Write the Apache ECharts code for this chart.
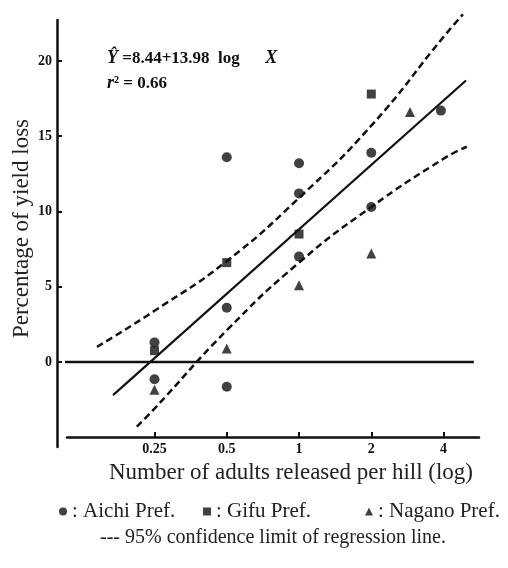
<!DOCTYPE html>
<html>
<head>
<meta charset="utf-8">
<script src="https://cdn.jsdelivr.net/npm/echarts@6/dist/echarts.min.js"></script>
<style>
html, body { margin: 0; padding: 0; background: #fff; }
#chart { width: 508px; height: 568px; }
</style>
</head>
<body>
<div id="chart"></div>
<script>
// points: [adults per hill, % yield loss]
var aichi = [[0.25, 1.3], [0.25, -1.15], [0.5, 13.6], [0.5, 3.6], [0.5, -1.65],
	[1, 13.2], [1, 11.2], [1, 7.0], [2, 13.9], [2, 10.3], [3.9, 16.7]];
var gifu = [[0.25, 0.75], [0.5, 6.6], [1, 8.5], [2, 17.8]];
var nagano = [[0.25, -1.85], [0.5, 0.9], [1, 5.1], [2, 7.2], [2.9, 16.6]];

// regression line and 95% limits
var regLine = [[0.168, -2.2], [4.96, 18.7]];
var upperLimit = [[0.144, 1.0], [0.25, 3.4], [0.5, 6.7], [1, 10.9], [2, 15.7], [4, 21.6], [4.82, 23.1]];
var lowerLimit = [[0.211, -4.3], [0.25, -3.1], [0.5, 2.1], [1, 6.6], [2, 10.3], [4, 13.5], [5.0, 14.3]];
var zeroLine = [[0.098, 0], [5.35, 0]];

var xTicks = [0.25, 0.5, 1, 2, 4];
var yTicks = [0, 5, 10, 15, 20];

var serif = 'Liberation Serif';

// one legend block per prefecture, spaced as in the figure
function legendItem(name, icon, left) {
	return {
		left: left,
		top: 496,
		itemWidth: 8,
		itemHeight: 8,
		formatter: ': {name}',
		textStyle: { fontFamily: serif, fontSize: 21, color: '#222' },
		data: [{ name: name, icon: icon }]
	};
}

var e = echarts.init(document.getElementById('chart')),
	a = {
		backgroundColor: '#fff',
		animation: false,
		grid: {
			left: 67,
			right: 29,
			top: 20,
			bottom: 121,
			outerBoundsMode: 'none'
		},
		legend: [
			legendItem('Aichi Pref.', 'circle', 54),
			legendItem('Gifu Pref.', 'rect', 198),
			legendItem('Nagano Pref.', 'triangle', 360)
		],
		xAxis: {
			type: 'log',
			logBase: 2,
			min: 0.108,
			max: 5.62,
			offset: -10,
			name: 'Number of adults released per hill (log)',
			nameLocation: 'middle',
			nameGap: 24,
			nameTextStyle: { fontFamily: serif, fontSize: 23, color: '#222', padding: [0, 0, 0, 36] },
			axisLine: { onZero: false, lineStyle: { color: '#111', width: 2.5 } },
			axisTick: { inside: true, length: 5, customValues: xTicks, lineStyle: { color: '#111', width: 2 } },
			axisLabel: {
				customValues: xTicks,
				margin: 5,
				fontFamily: serif,
				fontWeight: 'bold',
				fontSize: 14,
				color: '#111'
			},
			splitLine: { show: false }
		},
		yAxis: {
			type: 'value',
			min: -5.65,
			max: 22.72,
			offset: 10,
			name: 'Percentage of yield loss',
			nameLocation: 'middle',
			nameGap: 24,
			nameMoveOverlap: false,
			nameTextStyle: { fontFamily: serif, fontSize: 23, color: '#222', padding: [0, 0, 0, 10] },
			axisLine: { onZero: false, lineStyle: { color: '#111', width: 2.5 } },
			axisTick: { inside: true, length: 5, customValues: yTicks, lineStyle: { color: '#111', width: 2 } },
			axisLabel: {
				customValues: yTicks,
				margin: 5,
				fontFamily: serif,
				fontWeight: 'bold',
				fontSize: 14,
				color: '#111'
			},
			splitLine: { show: false }
		},
		graphic: [
			{
				type: 'text',
				left: 107,
				top: 46,
				style: {
					text: '{i|Ŷ} =8.44+13.98  log      {i|X}\n{i|r}² = 0.66',
					fontFamily: serif,
					fontWeight: 'bold',
					fontSize: 17,
					lineHeight: 25,
					fill: '#111',
					rich: {
						i: { fontFamily: serif, fontStyle: 'italic', fontWeight: 'bold', fontSize: 18 }
					}
				}
			},
			{
				type: 'text',
				left: 100,
				top: 528,
				style: {
					text: '--- 95% confidence limit of regression line.',
					fontFamily: serif,
					fontSize: 20,
					fill: '#222'
				}
			}
		],
		series: [
			{
				name: 'zero',
				type: 'line',
				data: zeroLine,
				symbol: 'none',
				clip: false,
				lineStyle: { color: '#111', width: 2.5 }
			},
			{
				name: 'regression',
				type: 'line',
				data: regLine,
				symbol: 'none',
				clip: false,
				lineStyle: { color: '#111', width: 2.2 }
			},
			{
				name: 'upper',
				type: 'line',
				data: upperLimit,
				smooth: true,
				symbol: 'none',
				clip: false,
				lineStyle: { color: '#111', width: 2.5, type: [7, 4] }
			},
			{
				name: 'lower',
				type: 'line',
				data: lowerLimit,
				smooth: true,
				symbol: 'none',
				clip: false,
				lineStyle: { color: '#111', width: 2.5, type: [7, 4] }
			},
			{
				name: 'Aichi Pref.',
				type: 'scatter',
				data: aichi,
				symbol: 'circle',
				symbolSize: 10,
				itemStyle: { color: '#111' }
			},
			{
				name: 'Gifu Pref.',
				type: 'scatter',
				data: gifu,
				symbol: 'rect',
				symbolSize: 9,
				itemStyle: { color: '#111' }
			},
			{
				name: 'Nagano Pref.',
				type: 'scatter',
				data: nagano,
				symbol: 'triangle',
				symbolSize: 10,
				itemStyle: { color: '#111' }
			}
		]
	};
e.setOption(a);
window.addEventListener('resize', e.resize);
</script>
</body>
</html>
